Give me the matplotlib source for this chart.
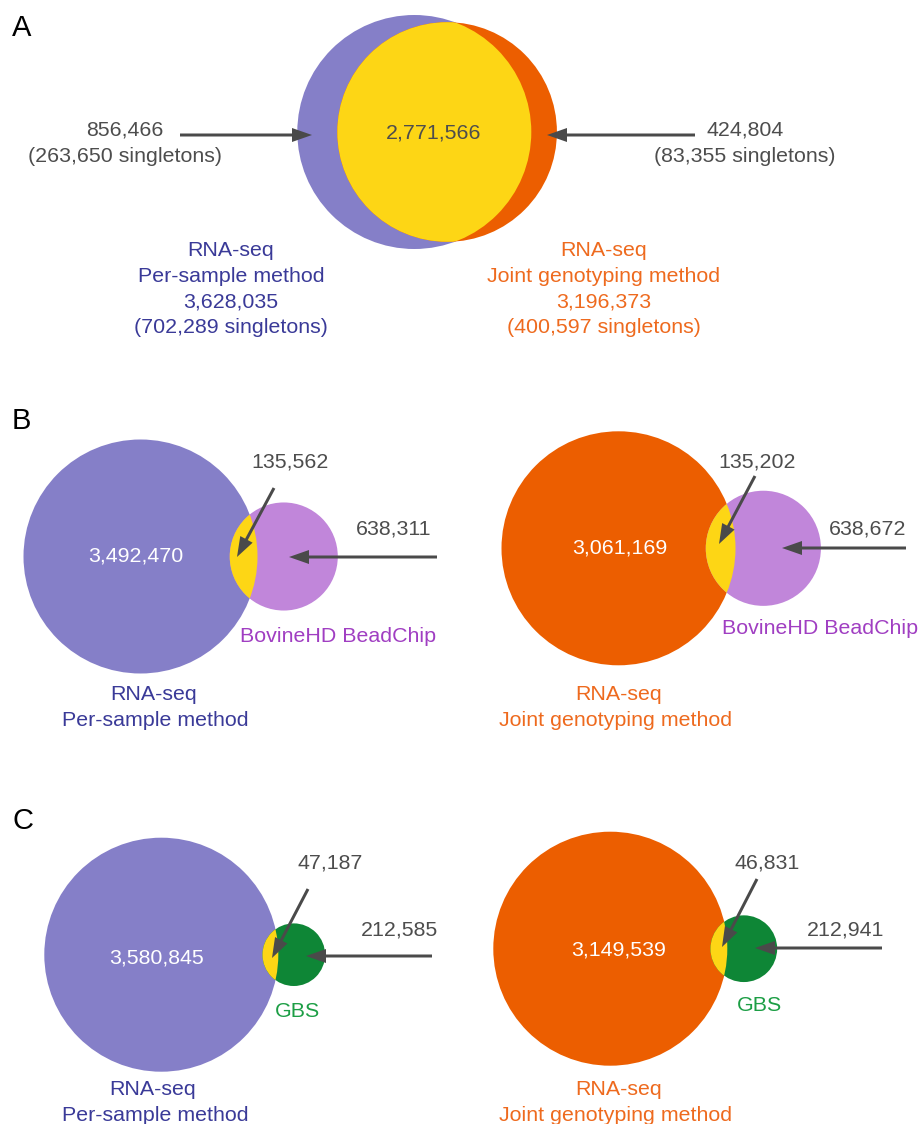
import numpy as np
import matplotlib
matplotlib.use("Agg")
import matplotlib.pyplot as plt
from matplotlib.patches import Circle

plt.rcParams['font.family'] = ['Liberation Sans', 'DejaVu Sans']

# Panel A: per-sample vs joint genotyping
a_ps_only = 856466
a_ps_only_single = 263650
a_jg_only = 424804
a_jg_only_single = 83355
a_shared = 2771566
a_ps_total = 3628035
a_ps_single = 702289
a_jg_total = 3196373
a_jg_single = 400597

# Panels B and C: [per-sample, joint genotyping]
b_rna_only = [3492470, 3061169]
b_shared = [135562, 135202]
b_chip_only = [638311, 638672]

c_rna_only = [3580845, 3149539]
c_shared = [47187, 46831]
c_gbs_only = [212585, 212941]

PURPLE = '#857fc8'
ORANGE = '#ec5e00'
YELLOW = '#fdd615'
CHIP = '#c186da'
GBS = '#0e8636'
GREY = '#4d4d4d'
BLUE_TXT = '#3a3a98'
ORANGE_TXT = '#ee6a1e'
CHIP_TXT = '#a03ec2'
GBS_TXT = '#1c9e45'

R_BIG = 117.0  # radius (px) of the largest set in each diagram
FS = 15.4


def lens_area(r1, r2, d):
    if d >= r1 + r2:
        return 0.0
    if d <= abs(r1 - r2):
        return np.pi * min(r1, r2) ** 2
    a1 = r1 ** 2 * np.arccos((d ** 2 + r1 ** 2 - r2 ** 2) / (2 * d * r1))
    a2 = r2 ** 2 * np.arccos((d ** 2 + r2 ** 2 - r1 ** 2) / (2 * d * r2))
    a3 = 0.5 * np.sqrt((-d + r1 + r2) * (d + r1 - r2) * (d - r1 + r2) * (d + r1 + r2))
    return a1 + a2 - a3


def venn2(ax, center, only1, only2, shared, c1, c2):
    # area-proportional two-set venn, big set on the left
    n1 = only1 + shared
    n2 = only2 + shared
    r1 = R_BIG
    r2 = R_BIG * np.sqrt(n2 / n1)
    target = shared / n1 * np.pi * r1 ** 2
    lo, hi = abs(r1 - r2), r1 + r2
    for _ in range(80):
        mid = 0.5 * (lo + hi)
        if lens_area(r1, r2, mid) > target:
            lo = mid
        else:
            hi = mid
    d = 0.5 * (lo + hi)
    x, y = center
    big = Circle((x, y), r1, color=c1, lw=0)
    small = Circle((x + d, y), r2, color=c2, lw=0)
    lens = Circle((x + d, y), r2, color=YELLOW, lw=0)
    ax.add_patch(big)
    ax.add_patch(small)
    ax.add_patch(lens)
    lens.set_clip_path(big)


def arrow(ax, tail, tip):
    ax.arrow(tail[0], tail[1], tip[0] - tail[0], tip[1] - tail[1],
             width=3, head_width=14, head_length=20, length_includes_head=True,
             color='#4a4a4a', lw=0)


def txt(ax, x, y, s, color=GREY, size=FS):
    ax.text(x, y, s, ha='center', va='baseline', color=color, fontsize=size)


fig = plt.figure(figsize=(9.22, 11.24), dpi=100)
ax = fig.add_axes([0, 0, 1, 1])
ax.set_xlim(0, 922)
ax.set_ylim(1124, 0)
ax.set_aspect('equal')
ax.axis('off')

# ---- A ----
ax.text(12, 36, 'A', fontsize=21, color='black', va='baseline')
venn2(ax, (414.3, 132), a_ps_only, a_jg_only, a_shared, PURPLE, ORANGE)
txt(ax, 434, 138.5, f'{a_shared:,}')
txt(ax, 125, 135, f'{a_ps_only:,}')
txt(ax, 125, 162.5, f'({a_ps_only_single:,} singletons)')
txt(ax, 745, 135, f'{a_jg_only:,}')
txt(ax, 745, 161.5, f'({a_jg_only_single:,} singletons)')
arrow(ax, (180, 135), (312, 135))
arrow(ax, (695, 135), (547, 135))
for i, s in enumerate(['RNA-seq', 'Per-sample method', f'{a_ps_total:,}',
                       f'({a_ps_single:,} singletons)']):
    txt(ax, 231, 256 + 25.7 * i, s, color=BLUE_TXT)
for i, s in enumerate(['RNA-seq', 'Joint genotyping method', f'{a_jg_total:,}',
                       f'({a_jg_single:,} singletons)']):
    txt(ax, 604, 256 + 25.7 * i, s, color=ORANGE_TXT)

# ---- B ----
ax.text(12, 429, 'B', fontsize=21, color='black', va='baseline')
venn2(ax, (140.5, 556.5), b_rna_only[0], b_chip_only[0], b_shared[0], PURPLE, CHIP)
venn2(ax, (618.5, 548.3), b_rna_only[1], b_chip_only[1], b_shared[1], ORANGE, CHIP)

txt(ax, 136, 561.7, f'{b_rna_only[0]:,}', color='white')
txt(ax, 290, 467.7, f'{b_shared[0]:,}')
txt(ax, 394, 534.3, f'{b_chip_only[0]:,}')
txt(ax, 338, 642.3, 'BovineHD BeadChip', color=CHIP_TXT)
txt(ax, 154, 700, 'RNA-seq', color=BLUE_TXT)
txt(ax, 155, 725.7, 'Per-sample method', color=BLUE_TXT)
arrow(ax, (274, 488), (237, 557))
arrow(ax, (437, 557), (289, 557))

txt(ax, 620, 554, f'{b_rna_only[1]:,}', color='white')
txt(ax, 757, 467.7, f'{b_shared[1]:,}')
txt(ax, 868, 534.3, f'{b_chip_only[1]:,}')
txt(ax, 820, 634, 'BovineHD BeadChip', color=CHIP_TXT)
txt(ax, 619, 700, 'RNA-seq', color=ORANGE_TXT)
txt(ax, 616, 725.7, 'Joint genotyping method', color=ORANGE_TXT)
arrow(ax, (755, 476), (719, 544))
arrow(ax, (906, 548), (782, 548))

# ---- C ----
ax.text(12, 829, 'C', fontsize=21, color='black', va='baseline')
venn2(ax, (161.3, 954.7), c_rna_only[0], c_gbs_only[0], c_shared[0], PURPLE, GBS)
venn2(ax, (610.3, 948.7), c_rna_only[1], c_gbs_only[1], c_shared[1], ORANGE, GBS)

txt(ax, 157, 963.3, f'{c_rna_only[0]:,}', color='white')
txt(ax, 330, 868.3, f'{c_shared[0]:,}')
txt(ax, 399, 936, f'{c_gbs_only[0]:,}')
txt(ax, 297, 1016.7, 'GBS', color=GBS_TXT)
txt(ax, 153, 1095, 'RNA-seq', color=BLUE_TXT)
txt(ax, 155, 1120.7, 'Per-sample method', color=BLUE_TXT)
arrow(ax, (308, 889), (272, 958))
arrow(ax, (432, 956), (306, 956))

txt(ax, 619, 955, f'{c_rna_only[1]:,}', color='white')
txt(ax, 767, 868.3, f'{c_shared[1]:,}')
txt(ax, 846, 936, f'{c_gbs_only[1]:,}')
txt(ax, 760, 1010.7, 'GBS', color=GBS_TXT)
txt(ax, 619, 1095, 'RNA-seq', color=ORANGE_TXT)
txt(ax, 616, 1120.7, 'Joint genotyping method', color=ORANGE_TXT)
arrow(ax, (757, 879), (722, 947))
arrow(ax, (882, 948), (755, 948))

fig.savefig('out.png', dpi=100)
